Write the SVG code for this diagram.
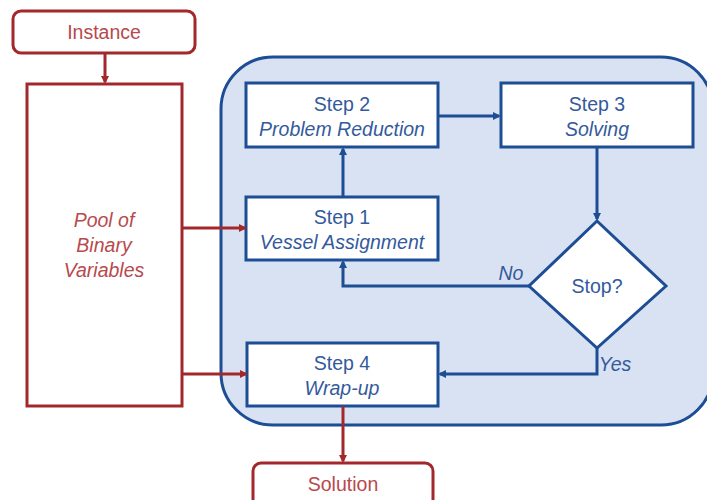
<svg xmlns="http://www.w3.org/2000/svg" width="707" height="500" viewBox="0 0 707 500">
  <style>
    .red { fill: #ffffff; stroke: #a3282c; stroke-width: 3; }
    .blue { fill: #ffffff; stroke: #1d4d94; stroke-width: 3; }
    .rtxt { font-family: "Liberation Sans", Arial, sans-serif; font-size: 19.5px; fill: #b8494c; text-anchor: middle; }
    .btxt { font-family: "Liberation Sans", Arial, sans-serif; font-size: 19.5px; fill: #335a9c; text-anchor: middle; }
    .it { font-style: italic; }
    .rc { fill: none; stroke: #a3282c; stroke-width: 3; }
    .bc { fill: none; stroke: #1d4d94; stroke-width: 3; }
  </style>
  <defs>
    <marker id="ar" markerWidth="8" markerHeight="8" refX="6" refY="4" orient="auto" markerUnits="userSpaceOnUse">
      <path d="M0,0 L8,4 L0,8 Z" fill="#a3282c"/>
    </marker>
    <marker id="ab" markerWidth="8" markerHeight="8" refX="6" refY="4" orient="auto" markerUnits="userSpaceOnUse">
      <path d="M0,0 L8,4 L0,8 Z" fill="#1d4d94"/>
    </marker>
  </defs>
  <rect width="707" height="500" fill="#ffffff"/>

  <!-- loop container -->
  <g id="loop">
    <rect x="221" y="57" width="492" height="368" rx="52" ry="52" fill="#d9e2f2" stroke="#1d4d94" stroke-width="3"/>
  </g>

  <g id="instance">
    <rect class="red" x="13" y="11" width="182" height="42" rx="8"/>
    <text class="rtxt" x="104" y="39">Instance</text>
  </g>

  <g id="pool">
    <rect class="red" x="27" y="84" width="155" height="322"/>
    <text class="rtxt it" x="104" y="227">Pool of</text>
    <text class="rtxt it" x="104" y="252">Binary</text>
    <text class="rtxt it" x="104" y="277">Variables</text>
  </g>

  <g id="step2">
    <rect class="blue" x="246" y="83" width="192" height="64"/>
    <text class="btxt" x="342" y="111">Step 2</text>
    <text class="btxt it" x="342" y="136">Problem Reduction</text>
  </g>

  <g id="step3">
    <rect class="blue" x="501" y="83" width="192" height="64"/>
    <text class="btxt" x="597" y="111">Step 3</text>
    <text class="btxt it" x="597" y="136">Solving</text>
  </g>

  <g id="step1">
    <rect class="blue" x="246" y="197" width="192" height="63"/>
    <text class="btxt" x="342" y="224">Step 1</text>
    <text class="btxt it" x="342" y="249">Vessel Assignment</text>
  </g>

  <g id="stop">
    <polygon class="blue" points="597,221 666,286 597,348 529,286"/>
    <text class="btxt" x="597" y="293">Stop?</text>
  </g>

  <g id="step4">
    <rect class="blue" x="247" y="343" width="191" height="63"/>
    <text class="btxt" x="342" y="370">Step 4</text>
    <text class="btxt it" x="342" y="395">Wrap-up</text>
  </g>

  <g id="solution">
    <rect class="red" x="253" y="463" width="180" height="50" rx="8"/>
    <text class="rtxt" x="343" y="491">Solution</text>
  </g>

  <g id="connectors">
    <line class="rc" x1="105" y1="53" x2="105" y2="82" marker-end="url(#ar)"/>
    <line class="rc" x1="182" y1="228" x2="245" y2="228" marker-end="url(#ar)"/>
    <line class="rc" x1="182" y1="374" x2="246" y2="374" marker-end="url(#ar)"/>
    <line class="rc" x1="343" y1="406" x2="343" y2="461" marker-end="url(#ar)"/>
    <line class="bc" x1="343" y1="197" x2="343" y2="149" marker-end="url(#ab)"/>
    <line class="bc" x1="438" y1="116" x2="499" y2="116" marker-end="url(#ab)"/>
    <line class="bc" x1="597" y1="147" x2="597" y2="219" marker-end="url(#ab)"/>
    <polyline class="bc" points="529,286 343,286 343,262" marker-end="url(#ab)"/>
    <polyline class="bc" points="597,348 597,374 440,374" marker-end="url(#ab)"/>
    <text class="btxt it" x="511" y="280">No</text>
    <text class="btxt it" x="615" y="371">Yes</text>
  </g>
</svg>
